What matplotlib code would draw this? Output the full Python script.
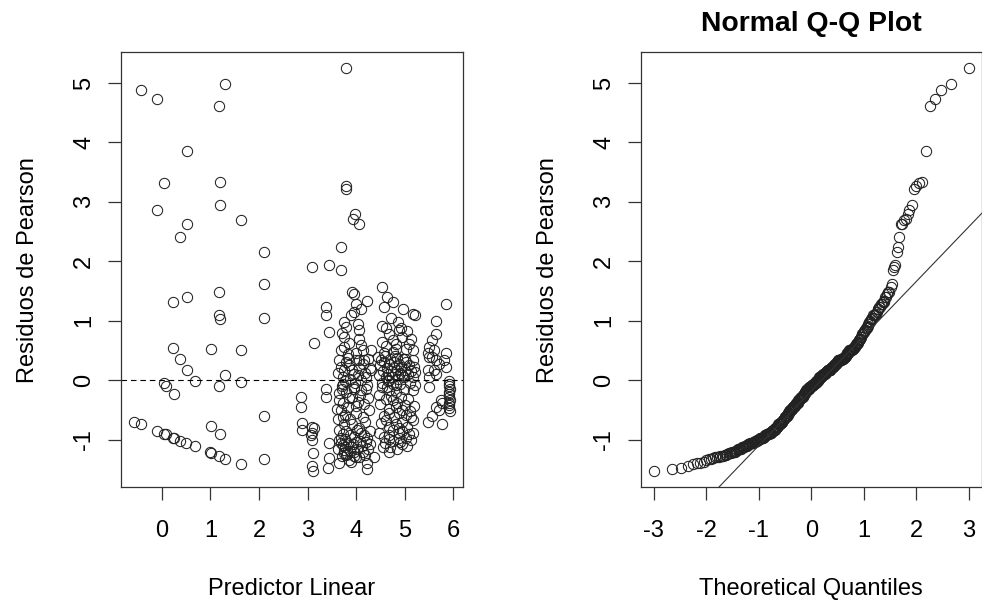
import matplotlib.pyplot as plt
import numpy as np
from statistics import NormalDist

plt.rcParams['font.family'] = ['Liberation Sans', 'DejaVu Sans']
plt.rcParams['axes.unicode_minus'] = False

# --- residuos de Pearson vs predictor linear ---
# sparse points, predictor < 2.5
pred_low = [-0.42, -0.10, 1.31, 1.17, 0.52, 0.04, 1.19, 1.19, -0.10, 0.52, 1.63, 0.38, 2.11, 2.11,
            0.23, 0.52, 1.17, 1.17, 1.19, 2.11, 0.23, 1.02, 1.63,
            0.38, 0.52, 0.69, 1.31, 1.63, 0.04, 0.09,
            1.17, 0.26, 2.11, -0.58, -0.42, 1.02,
            -0.10, 0.04, 0.09, 0.23, 0.26, 1.19,
            0.38, 0.50, 0.69, 0.99, 1.02, 1.17, 1.31, 1.63, 2.11]
res_low = [4.88, 4.73, 4.98, 4.61, 3.85, 3.32, 3.34, 2.95, 2.87, 2.63, 2.69, 2.41, 2.16, 1.61,
           1.31, 1.40, 1.48, 1.09, 1.03, 1.05, 0.54, 0.53, 0.51,
           0.36, 0.17, -0.01, 0.08, -0.03, -0.05, -0.09,
           -0.10, -0.24, -0.60, -0.70, -0.74, -0.77,
           -0.85, -0.90, -0.91, -0.97, -0.98, -0.90,
           -1.02, -1.05, -1.11, -1.21, -1.23, -1.28, -1.32, -1.41, -1.33]

# large residuals inside the cluster
pred_out = [3.80, 3.80, 3.80, 3.98, 3.94, 4.05, 3.69, 3.10, 3.45, 3.69, 4.54]
res_out = [5.25, 3.27, 3.22, 2.79, 2.71, 2.63, 2.24, 1.91, 1.93, 1.85, 1.57]

# columns near 3 and 3.4
pred_c3 = [2.86, 2.86, 2.88, 2.88, 3.10, 3.14, 3.10, 3.08, 3.10, 3.12, 3.10, 3.12, 3.14,
           3.38, 3.38, 3.45, 3.38, 3.38, 3.45, 3.45, 3.41]
res_c3 = [-0.28, -0.45, -0.72, -0.83, -0.78, -0.81, -0.89, -0.92, -1.01, -1.23, -1.45, -1.53, 0.63,
          1.23, 1.09, 0.81, -0.14, -0.28, -1.05, -1.31, -1.47]

# dense column 3.6 - 4.4
pred_c4 = [3.75, 3.79, 3.75, 3.75, 3.69, 3.92, 3.96, 3.99, 3.96, 3.90, 4.23, 4.10, 4.03, 4.06, 4.06,
           4.10, 4.13, 4.30, 3.85, 3.70, 4.00, 3.83,
           3.65, 3.75, 3.72, 3.72, 4.00, 4.06, 4.16, 3.92, 4.03, 4.10, 4.28, 4.31, 3.80, 3.86,
           3.68, 3.95, 4.20, 4.14, 3.78, 3.88, 3.97, 4.22, 3.62, 4.05, 3.84, 4.25, 3.70, 4.18,
           3.65, 3.65, 3.72, 3.69, 3.72, 3.75, 3.96, 4.10, 4.20, 3.92, 4.03, 3.99, 4.13, 4.26,
           3.92, 4.06, 3.80, 3.83, 3.86, 3.78, 3.62, 4.16, 4.24, 3.88, 4.00, 3.70, 4.08, 4.18,
           3.60, 3.95,
           3.65, 3.72, 3.96, 4.23, 3.80, 4.10, 3.88, 4.02, 3.68, 4.17, 3.76, 4.28,
           3.65, 3.86, 3.89, 4.23, 4.23, 4.06, 4.37, 3.99, 3.70, 3.80, 3.95, 4.19, 3.82, 3.65,
           3.72, 3.75, 3.99, 3.90, 3.96, 3.62, 3.84, 4.12, 4.15, 4.28, 3.87, 4.25, 3.78, 4.02,
           3.68, 4.08, 3.93, 4.20, 3.74]
res_c4 = [0.98, 0.89, 0.73, 0.56, 0.50, 1.48, 1.45, 1.29, 1.15, 1.09, 1.34, 1.20, 0.95, 0.84, 0.70,
          0.59, 0.50, 0.50, 0.62, 0.80, 0.45, 0.44,
          0.34, 0.17, 0.05, -0.06, 0.34, 0.34, 0.34, 0.17, 0.08, 0.00, 0.20, 0.17, 0.30, 0.25,
          0.22, 0.10, 0.05, 0.28, -0.02, 0.02, -0.05, -0.08, 0.12, 0.20, 0.38, 0.36, -0.09, 0.12,
          -0.22, -0.34, -0.39, -0.50, -0.62, -0.73, -0.14, -0.17, -0.14, -0.28, -0.36, -0.56, -0.62, -0.50,
          -0.73, -0.80, -0.20, -0.45, -0.30, -0.58, -0.66, -0.40, -0.30, -0.66, -0.44, -0.15, -0.25, -0.70,
          -0.48, -0.12,
          -0.84, -0.90, -0.95, -0.98, -0.86, -0.88, -0.93, -0.84, -0.97, -0.92, -0.99, -0.85,
          -1.40, -1.34, -1.37, -1.50, -1.40, -1.29, -1.29, -1.30, -1.27, -1.25, -1.27, -1.26, -1.24, -1.01,
          -1.09, -1.17, -1.04, -1.12, -1.21, -1.15, -1.05, -1.10, -1.20, -1.08, -1.19, -1.15, -1.13, -1.16,
          -1.06, -1.02, -1.08, -1.04, -1.22]

# dense column 4.45 - 5.25
pred_c5 = [4.64, 4.75, 4.58, 4.54, 4.88, 4.75, 4.82, 4.54, 4.61, 4.82, 4.75, 5.02, 5.09, 5.16, 5.16,
           5.21, 4.92, 4.68, 4.95, 4.58, 4.86, 5.05, 4.72, 4.97, 5.12, 4.62,
           4.44, 4.51, 4.68, 4.78, 4.85, 4.61, 4.68, 4.75, 4.82, 5.16, 5.19, 5.21, 5.16, 5.22,
           4.50, 4.55, 4.58, 4.63, 4.66, 4.70, 4.72, 4.74, 4.77, 4.80, 4.83, 4.86, 4.88, 4.90,
           4.93, 4.96, 4.98, 5.00, 5.03, 5.06, 5.08, 5.11, 5.13, 4.47, 4.53, 4.60, 4.65, 4.79,
           4.91, 5.01, 4.95,
           4.54, 4.68, 4.82, 4.47, 4.61, 4.75, 4.68, 4.82, 4.95, 4.68, 4.88, 5.02, 5.12, 4.61,
           4.82, 4.95, 5.16, 4.68, 4.88, 5.05, 5.16, 4.50, 4.57, 4.72, 4.78, 4.85, 4.92, 5.00,
           5.07, 5.10, 5.20, 4.64, 4.98, 4.52,
           4.47, 4.68, 4.88, 5.16, 4.68, 4.88, 5.02, 4.75, 4.58, 4.95, 5.08,
           4.68, 4.85, 4.60, 4.75, 4.95, 5.05, 4.55, 4.90, 4.70, 5.12]
res_c5 = [1.40, 1.31, 1.23, 0.92, 0.84, 0.67, 0.61, 0.64, 0.58, 0.53, 0.47, 0.53, 0.61, 0.50, 1.12,
          1.10, 0.87, 0.78, 0.72, 0.45, 0.98, 0.83, 1.05, 1.20, 0.70, 0.88,
          0.39, 0.34, 0.28, 0.22, 0.17, 0.06, 0.00, -0.06, -0.08, 0.34, 0.22, 0.14, 0.06, -0.08,
          0.25, 0.15, 0.30, 0.20, 0.10, 0.35, 0.15, 0.05, 0.30, 0.10, 0.38, 0.02, 0.28, 0.12,
          0.22, 0.35, 0.05, 0.18, 0.30, 0.10, 0.25, -0.04, 0.16, 0.08, -0.05, 0.40, -0.02, 0.40,
          -0.07, 0.36, 0.08,
          -0.11, -0.17, -0.20, -0.25, -0.31, -0.34, -0.48, -0.45, -0.50, -0.56, -0.56, -0.59, -0.62, -0.67,
          -0.73, -0.70, -0.67, -0.78, -0.80, -0.79, -0.17, -0.40, -0.60, -0.26, -0.62, -0.38, -0.28, -0.42,
          -0.32, -0.52, -0.44, -0.12, -0.15, -0.72,
          -0.89, -0.92, -0.89, -0.89, -0.99, -0.98, -0.97, -0.84, -0.95, -0.86, -0.91,
          -1.20, -1.15, -1.05, -1.02, -1.08, -1.10, -1.12, -1.04, -1.13, -1.01]

# columns near 5.5 - 5.9
pred_c6 = [5.84, 5.64, 5.64, 5.57, 5.50, 5.47, 5.60, 5.84,
           5.50, 5.57, 5.64, 5.81, 5.84, 5.47, 5.50, 5.60, 5.64, 5.70,
           5.50, 5.47, 5.77, 5.64, 5.71, 5.77, 5.74, 5.55,
           5.91, 5.92, 5.90, 5.93, 5.91, 5.92, 5.90, 5.93, 5.91, 5.92, 5.90, 5.93]
res_c6 = [1.29, 1.00, 0.77, 0.67, 0.56, 0.45, 0.50, 0.45,
          0.39, 0.39, 0.34, 0.34, 0.22, 0.17, 0.06, 0.17, 0.10, 0.28,
          -0.11, -0.70, -0.73, -0.45, -0.50, -0.39, -0.34, -0.60,
          -0.02, -0.06, -0.10, -0.14, -0.19, -0.24, -0.29, -0.33, -0.38, -0.42, -0.47, -0.51]

pred = np.concatenate([pred_low, pred_out, pred_c3, pred_c4, pred_c5, pred_c6])
res = np.concatenate([res_low, res_out, res_c3, res_c4, res_c5, res_c6])


def r_lim(v):
    # R default axis range: data range extended by 4% on each side
    lo, hi = np.min(v), np.max(v)
    d = 0.04 * (hi - lo)
    return lo - d, hi + d


# qqnorm / qqline
nd = NormalDist()
n = len(res)
probs = (np.arange(1, n + 1) - 0.5) / n
theo = np.array([nd.inv_cdf(p) for p in probs])
sample = np.sort(res)
yq = np.quantile(res, [0.25, 0.75])
xq = np.array([nd.inv_cdf(0.25), nd.inv_cdf(0.75)])
slope = (yq[1] - yq[0]) / (xq[1] - xq[0])
intercept = yq[0] - slope * xq[0]

fig = plt.figure(figsize=(9.82, 6.03), dpi=100)
ax1 = fig.add_axes([0.1232, 0.1919, 0.3479, 0.7219])
ax2 = fig.add_axes([0.6527, 0.1919, 0.3470, 0.7219])

pt = dict(marker='o', ls='none', mfc='none', mec='#222222', ms=7.4, mew=0.75)

ax1.plot(pred, res, **pt)
ax1.axhline(0, color='black', lw=0.8, ls=(0, (5, 3.5)))
ax1.set_xlim(r_lim(pred))
ax1.set_ylim(r_lim(res))
ax1.set_xticks(range(0, 7))
ax1.set_yticks(range(-1, 6))
ax1.set_xlabel('Predictor Linear', fontsize=17)
ax1.set_ylabel('Residuos de Pearson', fontsize=17)

ax2.plot(theo, sample, **pt)
ax2.axline((0, intercept), slope=slope, color='#333333', lw=0.8)
ax2.set_xlim(r_lim(theo))
ax2.set_ylim(r_lim(sample))
ax2.set_xticks(range(-3, 4))
ax2.set_yticks(range(-1, 6))
ax2.set_xlabel('Theoretical Quantiles', fontsize=17)
ax2.set_ylabel('Residuos de Pearson', fontsize=17)
ax2.set_title('Normal Q-Q Plot', fontsize=20.4, fontweight='bold', pad=15)

for ax in (ax1, ax2):
    for s in ax.spines.values():
        s.set_color('#333333')
        s.set_linewidth(0.9)
    ax.tick_params(direction='out', length=9.5, width=0.9, color='#333333', labelsize=17)
    ax.tick_params(axis='x', pad=14)
    ax.tick_params(axis='y', pad=9, labelrotation=90)
    for lab in ax.get_yticklabels():
        lab.set_va('center')
    ax.xaxis.set_label_coords(0.5, -0.208)
    ax.yaxis.set_label_coords(-0.24, 0.5)

fig.savefig('out.png', dpi=100)
